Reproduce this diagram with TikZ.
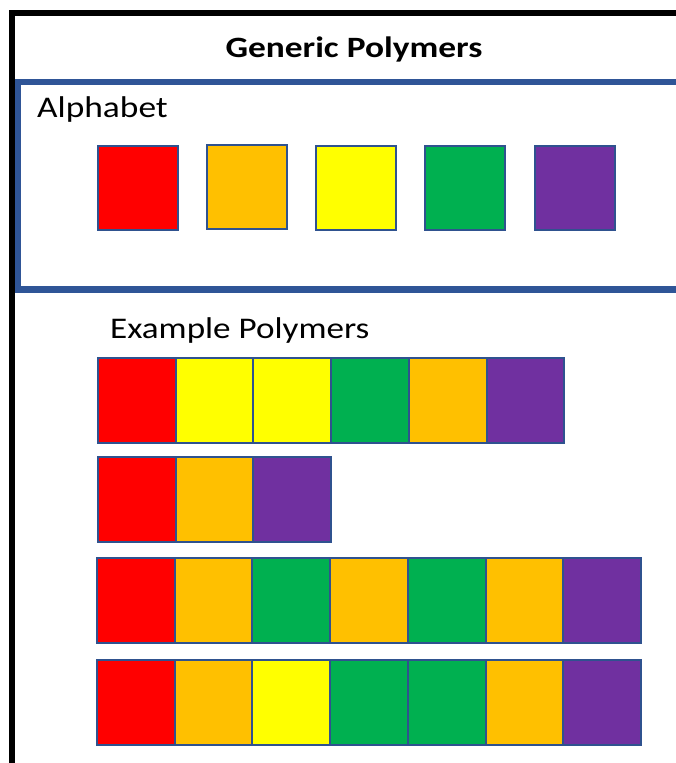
\documentclass[tikz,border=0pt]{standalone}
\usepackage{fontspec}
\setmainfont{Carlito}
\definecolor{frameblue}{HTML}{2F5597}
\definecolor{cellline}{HTML}{2F528F}
\definecolor{cRed}{HTML}{FF0000}
\definecolor{cOrange}{HTML}{FFC000}
\definecolor{cYellow}{HTML}{FFFF00}
\definecolor{cGreen}{HTML}{00B050}
\definecolor{cPurple}{HTML}{7030A0}
\newcommand{\widetext}[2]{\scalebox{#1}[1]{#2}}
\tikzset{
  letter/.style={draw=cellline, line width=2pt, minimum width=80pt, minimum height=84pt, inner sep=0pt, outer sep=0pt},
  unit/.style={draw=cellline, line width=2pt, minimum width=77.7pt, minimum height=85pt, inner sep=0pt, outer sep=0pt},
  label text/.style={inner sep=0pt, anchor=base west, font=\fontsize{30}{36}\selectfont},
}
\begin{document}
\begin{tikzpicture}[x=1pt, y=-1pt]
\useasboundingbox (0,0) rectangle (675,763);
% outer frame
\draw[line width=6pt, miter limit=10] (12,770) -- (12,13) -- (680,13);
% alphabet panel
\draw[frameblue, line width=6.5pt] (18,82) rectangle (690,289.5);
% headings
\node[inner sep=0pt, anchor=base, font=\bfseries\fontsize{29.5}{35}\selectfont] (title) at (354,57) {\widetext{1.2}{Generic Polymers}};
\node[label text] (alpha) at (37,117) {\widetext{1.18}{Alphabet}};
\node[label text] (examples) at (110,338) {\widetext{1.17}{Example Polymers}};
% alphabet letters
\node[letter, fill=cRed]    (aR) at (138,188) {};
\node[letter, fill=cOrange] (aO) at (246.5,187) {};
\node[letter, fill=cYellow] (aY) at (355.5,188) {};
\node[letter, fill=cGreen]  (aG) at (464.5,188) {};
\node[letter, fill=cPurple] (aP) at (574.5,188) {};
% example chains
\foreach \row/\x/\y/\seq in {
  1/98/400/{cRed,cYellow,cYellow,cGreen,cOrange,cPurple},
  2/98/499/{cRed,cOrange,cPurple},
  3/97/600/{cRed,cOrange,cGreen,cOrange,cGreen,cOrange,cPurple},
  4/97/702/{cRed,cOrange,cYellow,cGreen,cGreen,cOrange,cPurple}}{
  \foreach \c [count=\i from 0] in \seq {
    \node[unit, fill=\c] (p\row-\i) at ({\x+38.85+77.7*\i},\y) {};
  }
}
\end{tikzpicture}
\end{document}
